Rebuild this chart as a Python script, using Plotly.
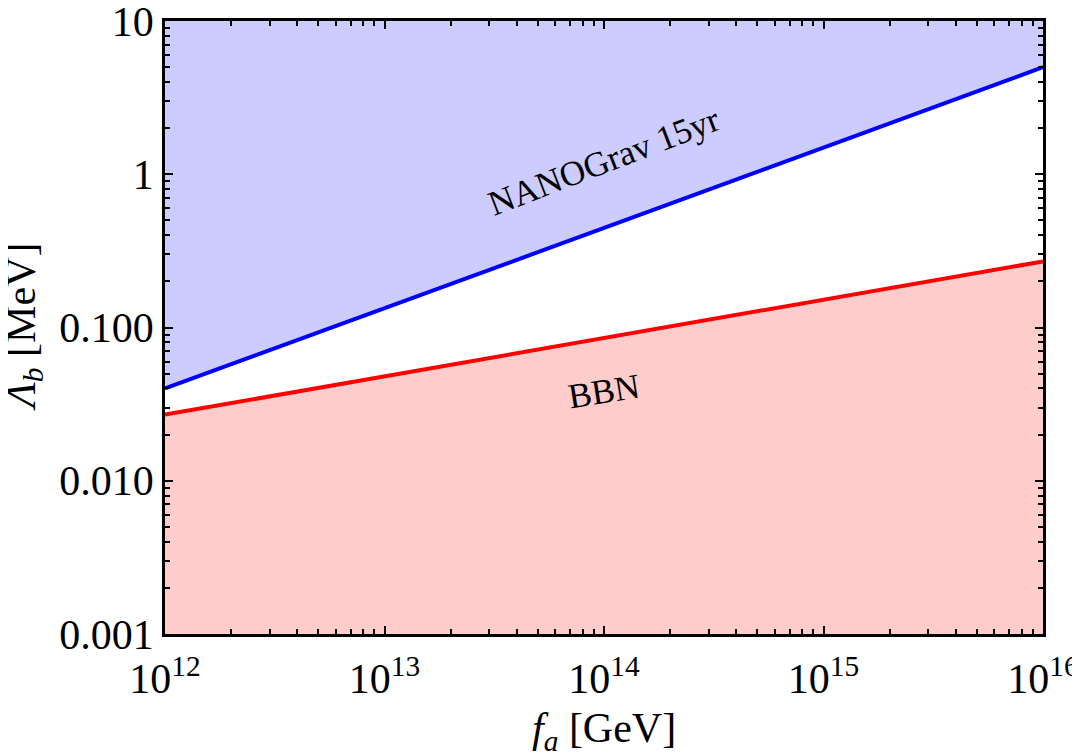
import plotly.graph_objects as go
import numpy as np

# Data
fa = [1e12, 1e13, 1e14, 1e15, 1e16]
nanograv = [0.04, 0.133, 0.445, 1.49, 5.0]
bbn = [0.027, 0.048, 0.085, 0.152, 0.27]
y_top = 10
y_bottom = 0.001

xtick_vals = [1e12, 1e13, 1e14, 1e15, 1e16]
xtick_text = ["10<sup>12</sup>", "10<sup>13</sup>", "10<sup>14</sup>", "10<sup>15</sup>", "10<sup>16</sup>"]
ytick_vals = [0.001, 0.01, 0.1, 1, 10]
ytick_text = ["0.001", "0.010", "0.100", "1", "10"]

FONT = "Liberation Serif"
BLUE_FILL = "rgb(204,204,255)"
RED_FILL = "rgb(255,204,204)"

fig = go.Figure()
# Blue excluded region (above NANOGrav line)
fig.add_trace(go.Scatter(x=fa, y=[y_top] * len(fa), mode="lines", line=dict(width=0),
                         showlegend=False, hoverinfo="skip"))
fig.add_trace(go.Scatter(x=fa, y=nanograv, mode="lines", line=dict(width=0),
                         fill="tonexty", fillcolor=BLUE_FILL, showlegend=False, hoverinfo="skip"))
# Red excluded region (below BBN line)
fig.add_trace(go.Scatter(x=fa, y=[y_bottom] * len(fa), mode="lines", line=dict(width=0),
                         showlegend=False, hoverinfo="skip"))
fig.add_trace(go.Scatter(x=fa, y=bbn, mode="lines", line=dict(width=0),
                         fill="tonexty", fillcolor=RED_FILL, showlegend=False, hoverinfo="skip"))
# Lines
fig.add_trace(go.Scatter(x=fa, y=nanograv, mode="lines", line=dict(color="rgb(0,0,255)", width=4),
                         showlegend=False))
fig.add_trace(go.Scatter(x=fa, y=bbn, mode="lines", line=dict(color="rgb(255,0,0)", width=4),
                         showlegend=False))

x_minor = [k * 10.0 ** n for n in range(12, 16) for k in range(2, 10)]
y_minor = [k * 10.0 ** n for n in range(-3, 1) for k in range(2, 10)]

axis_common = dict(
    showline=True, linecolor="black", linewidth=2.5, mirror="ticks",
    ticks="inside", ticklen=8, tickwidth=2, tickcolor="black",
    showgrid=False, zeroline=False, automargin=False, ticklabeloverflow="allow",
    tickfont=dict(family=FONT, size=42, color="black"),
)

fig.update_xaxes(type="log", range=[12, 16], tickmode="array", tickvals=xtick_vals,
                 ticktext=xtick_text, ticklabelstandoff=6,
                 minor=dict(ticks="inside", ticklen=5, tickwidth=2, tickcolor="black",
                            tickmode="array", tickvals=x_minor, showgrid=False),
                 **axis_common)
fig.update_yaxes(type="log", range=[-3, 1], tickmode="array", tickvals=ytick_vals,
                 ticktext=ytick_text,
                 minor=dict(ticks="inside", ticklen=5, tickwidth=2, tickcolor="black",
                            tickmode="array", tickvals=y_minor, showgrid=False),
                 **axis_common)

fig.add_annotation(x=14, y=0.08, xref="x", yref="y", text="NANOGrav 15yr", showarrow=False,
                   textangle=-21, font=dict(family=FONT, size=35, color="black"))
fig.add_annotation(x=14, y=-1.42, xref="x", yref="y", text="BBN", showarrow=False,
                   textangle=-9, font=dict(family=FONT, size=35, color="black"))

# Axis titles
fig.add_annotation(x=0.5, y=0, xref="paper", yref="paper", yshift=-97, xanchor="center",
                   yanchor="middle", text="<i>f</i><sub><i>a</i></sub> [GeV]", showarrow=False,
                   font=dict(family=FONT, size=42, color="black"))
fig.add_annotation(x=0, y=0.5, xref="paper", yref="paper", xshift=-142, xanchor="center",
                   yanchor="middle", text="<i>Λ</i><sub><i>b</i></sub> [MeV]", textangle=-90,
                   showarrow=False, font=dict(family=FONT, size=42, color="black"))

fig.update_layout(
    width=1080, height=756,
    margin=dict(l=157, r=45, t=13, b=130),
    paper_bgcolor="white", plot_bgcolor="white",
    showlegend=False,
)

fig.write_html("out.html")
